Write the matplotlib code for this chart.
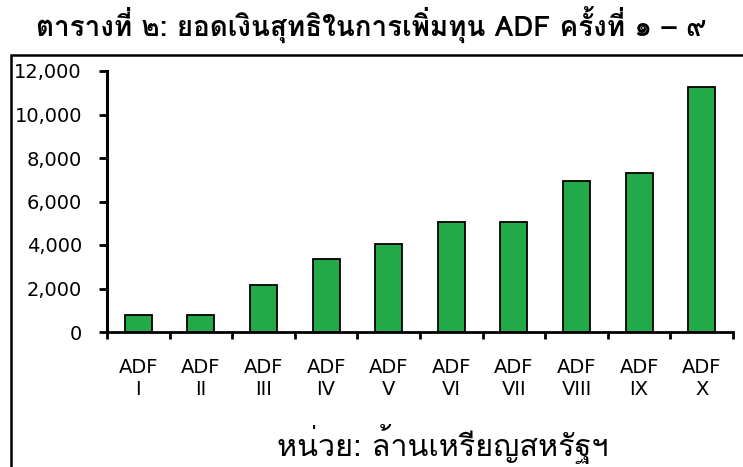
import matplotlib
matplotlib.use('Agg')
import matplotlib.pyplot as plt
from matplotlib.patches import Rectangle
from matplotlib.ticker import FuncFormatter

# data (million US$)
rounds = ['I', 'II', 'III', 'IV', 'V', 'VI', 'VII', 'VIII', 'IX', 'X']
amounts = [800, 800, 2150, 3350, 4050, 5050, 5050, 6950, 7300, 11250]
yticks = [0, 2000, 4000, 6000, 8000, 10000, 12000]

title = 'ตารางที่ ๒: ยอดเงินสุทธิในการเพิ่มทุน ADF ครั้งที่ ๑ – ๙'
unit_note = 'หน่วย: ล้านเหรียญสหรัฐฯ'

thai_fonts = ['Loma', 'DejaVu Sans']

W, H = 743, 467
fig = plt.figure(figsize=(W / 100, H / 100), dpi=100)

# outer frame (cut off at right and bottom in the reference)
fig.patches.append(Rectangle((11 / W, -0.1), 1.2, (H - 55) / H + 0.1,
                             transform=fig.transFigure, fill=False,
                             edgecolor='black', linewidth=1.8))

ax = fig.add_axes([107 / W, (H - 332) / H, 626 / W, 261 / H])
x = list(range(len(rounds)))
ax.bar(x, amounts, width=0.43, color='#22aa48', edgecolor='black', linewidth=1.3)

ax.set_xlim(-0.5, len(rounds) - 0.5)
ax.set_ylim(0, 12000)
ax.set_yticks(yticks)
ax.yaxis.set_major_formatter(FuncFormatter(lambda v, p: '{:,.0f}'.format(v)))
ax.tick_params(axis='y', direction='out', length=6, width=2, labelsize=14, pad=12)

# ticks on category boundaries, labels at category centres
ax.set_xticks([i - 0.5 for i in range(len(rounds) + 1)])
ax.set_xticklabels([])
ax.set_xticks(x, minor=True)
ax.set_xticklabels(['ADF\n' + r for r in rounds], minor=True)
ax.tick_params(axis='x', which='major', direction='out', length=5, width=2)
ax.tick_params(axis='x', which='minor', length=0, labelsize=14, pad=19)

for side in ['top', 'right']:
    ax.spines[side].set_visible(False)
ax.spines['left'].set_linewidth(2.2)
ax.spines['bottom'].set_linewidth(2)

fig.text(371 / W, 1 - 25 / H, title, ha='center', va='center',
         fontsize=20, fontweight='bold', family=thai_fonts)
fig.text(443 / W, 1 - 444 / H, unit_note, ha='center', va='center',
         fontsize=22, family=thai_fonts)

fig.savefig('out.png', dpi=100)
